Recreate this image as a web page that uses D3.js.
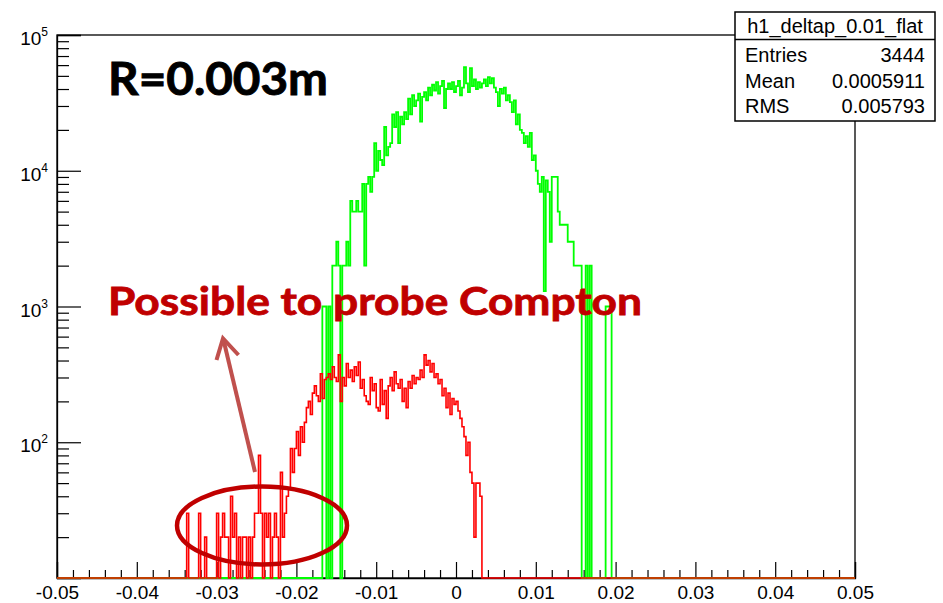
<!DOCTYPE html>
<html>
<head>
<meta charset="utf-8">
<script src="https://cdn.jsdelivr.net/npm/d3@7"></script>
<style>
  body { margin: 0; background: #fff; }
  svg { display: block; }
</style>
</head>
<body>
<div id="chart"></div>
<script>
var binWidth = 0.00025;
var xMin = -0.05, xMax = 0.05;

// green histogram: counts per bin starting at greenStart
var greenStart = -0.01675;
var greenCounts = [1000,1000,0,1000,0,2000,2000,3000,2000,0,
  2000,2000,3000,2000,6000,5000,5000,6000,5000,5000,
  8000,2000,8000,9000,7000,9000,16000,10000,14000,12000,
  11000,21000,13000,15000,16000,26000,21000,27000,16000,25000,
  22000,27000,24000,34000,26000,36000,30000,33000,37000,23000,
  35000,38000,33000,41000,36000,43000,39000,45000,37000,42000,
  46000,29000,40000,44000,40000,45000,38000,42000,46000,36000,
  41000,58000,44000,38000,57000,42000,47000,40000,45000,41000,
  44000,47000,42000,49000,44000,48000,41000,38000,30000,40000,
  37000,41000,33000,36000,32000,27000,33000,22000,26000,20000,
  19000,16000,18000,15000,19000,12000,13000,10000,8000,7000,
  9000,1300,8500,7000,3000,9000,9000,9000,5000,4000,
  4000,4000,4000,3000,3000,3000,2000,2000,2000,2000,
  0,0,2000,0,2000,0,0,0,0,0,
  0,0,1000,1000,1000];

// red histogram
var redStart = -0.03375;
var redCounts = [30,0,0,0,0,0,30,0,0,20,
  0,0,0,0,0,30,0,20,30,20,
  20,0,40,20,30,0,20,0,20,20,
  0,20,0,20,30,30,80,30,0,30,
  20,30,0,20,30,20,0,60,20,30,
  40,45,90,60,90,120,80,130,100,140,
  180,200,160,230,260,220,200,320,210,290,
  300,320,290,360,300,280,440,200,300,260,
  380,300,340,280,360,310,390,250,290,220,
  200,190,300,240,270,180,170,290,190,240,
  150,260,300,240,330,270,250,290,200,250,
  180,280,250,310,270,300,290,340,300,440,
  370,400,330,380,300,320,270,290,220,250,
  180,230,160,210,190,200,170,150,130,110,
  80,100,60,50,20,50,50,40];

var xTickValues = [-0.05,-0.04,-0.03,-0.02,-0.01,0,0.01,0.02,0.03,0.04,0.05];
var yDecades = [10,100,1000,10000,100000];
var yLabelDecades = [100,1000,10000,100000];
var yExponents = [2,3,4,5];

var statsTitle = "h1_deltap_0.01_flat";
var statsNames = ["Entries","Mean","RMS"];
var statsValues = ["3444","0.0005911","0.005793"];

var width = 943, height = 603;
var margin = {top: 35, right: 88, bottom: 25, left: 57};
var plotRight = width - margin.right;   // 855
var plotBottom = height - margin.bottom; // 578

var svg = d3.select("#chart").append("svg")
    .attr("width", width)
    .attr("height", height);

var x = d3.scaleLinear().domain([xMin, xMax]).range([margin.left, plotRight]);
var y = d3.scaleLog().domain([10, 100000]).range([plotBottom, margin.top]);

function yv(v) { return v <= 10 ? y(10) : y(v); }

// expand a short counts array into the full binning
function fullBins(start, counts) {
  var n = Math.round((xMax - xMin) / binWidth);
  var arr = new Array(n).fill(0);
  var off = Math.round((start - xMin) / binWidth);
  counts.forEach(function (c, i) { arr[off + i] = c; });
  var pts = arr.map(function (v, i) { return [xMin + i * binWidth, v]; });
  pts.push([xMax, arr[n - 1]]);
  return pts;
}

var step = d3.line()
    .x(function (d) { return x(d[0]); })
    .y(function (d) { return yv(d[1]); })
    .curve(d3.curveStepAfter);

svg.append("clipPath").attr("id", "plotclip")
  .append("rect")
    .attr("x", margin.left).attr("y", margin.top - 1)
    .attr("width", plotRight - margin.left).attr("height", plotBottom - margin.top + 2);

// frame
svg.append("rect")
    .attr("x", margin.left).attr("y", margin.top)
    .attr("width", plotRight - margin.left).attr("height", plotBottom - margin.top)
    .attr("fill", "none").attr("stroke", "#000").attr("stroke-width", 1.3);

// y axis: major + minor ticks pointing inward
var minorY = [];
yDecades.slice(0, 4).forEach(function (d) {
  for (var m = 2; m <= 9; m++) minorY.push(d * m);
});

var yMinor = d3.axisLeft(y).tickValues(minorY).tickSize(-12).tickFormat("");
svg.append("g").attr("transform", "translate(" + margin.left + ",0)").call(yMinor)
  .call(function (g) {
    g.select(".domain").remove();
    g.selectAll(".tick line").attr("stroke", "#000").attr("stroke-width", 1.2);
  });

var yMajor = d3.axisLeft(y).tickValues(yLabelDecades).tickSize(-24).tickPadding(9);
svg.append("g").attr("transform", "translate(" + margin.left + ",0)").call(yMajor)
  .call(function (g) {
    g.select(".domain").attr("stroke", "#000").attr("stroke-width", 1.3);
    g.selectAll(".tick line").attr("stroke", "#000").attr("stroke-width", 1.2);
    g.selectAll(".tick text").each(function (d, i) {
      var t = d3.select(this).text("")
          .attr("font-family", "'Liberation Sans', Arial, sans-serif")
          .attr("font-size", 19).attr("fill", "#000")
          .attr("dy", "0.5em");
      t.append("tspan").text("10");
      t.append("tspan").text(yExponents[i]).attr("font-size", 12).attr("dy", -9);
    });
  });

// x axis
var minorX = d3.range(-25, 26).map(function (i) { return i * 0.002; })
    .filter(function (v) { return Math.abs(Math.round(v * 100) - v * 100) > 1e-6; });

var xMinorAxis = d3.axisBottom(x).tickValues(minorX).tickSize(-8).tickFormat("");
svg.append("g").attr("transform", "translate(0," + plotBottom + ")").call(xMinorAxis)
  .call(function (g) {
    g.select(".domain").remove();
    g.selectAll(".tick line").attr("stroke", "#000").attr("stroke-width", 1.2);
  });

var xAxis = d3.axisBottom(x).tickValues(xTickValues).tickSize(-16).tickPadding(8)
    .tickFormat(function (d) {
      if (Math.abs(d) < 1e-9) return "0";
      return (d < 0 ? "-" : "") + Math.abs(d).toFixed(2);
    });
svg.append("g").attr("transform", "translate(0," + plotBottom + ")").call(xAxis)
  .call(function (g) {
    g.select(".domain").attr("stroke", "#000").attr("stroke-width", 1.3);
    g.selectAll(".tick line").attr("stroke", "#000").attr("stroke-width", 1.2);
    g.selectAll(".tick text")
      .attr("font-family", "'Liberation Sans', Arial, sans-serif")
      .attr("font-size", 19).attr("fill", "#000");
  });

// histograms
var plot = svg.append("g").attr("clip-path", "url(#plotclip)");
plot.append("path")
    .attr("d", step(fullBins(greenStart, greenCounts)))
    .attr("fill", "none").attr("stroke", "#00ff00").attr("stroke-width", 1.8);
plot.append("path")
    .attr("d", step(fullBins(redStart, redCounts)))
    .attr("fill", "none").attr("stroke", "#ff0000").attr("stroke-width", 1.6);

// stats box
var box = svg.append("g").attr("font-family", "'Liberation Sans', Arial, sans-serif")
    .attr("font-size", 20).attr("fill", "#000");
box.append("rect").attr("x", 735).attr("y", 12).attr("width", 200).attr("height", 109)
    .attr("fill", "#fff").attr("stroke", "#000").attr("stroke-width", 1.5);
box.append("line").attr("x1", 735).attr("x2", 935).attr("y1", 39.5).attr("y2", 39.5)
    .attr("stroke", "#000").attr("stroke-width", 1.5);
box.append("text").attr("x", 835).attr("y", 33).attr("text-anchor", "middle").text(statsTitle);
statsNames.forEach(function (n, i) {
  var by = 62 + i * 25.5;
  box.append("text").attr("x", 745).attr("y", by).text(n);
  box.append("text").attr("x", 925).attr("y", by).attr("text-anchor", "end").text(statsValues[i]);
});

// annotations
svg.append("text").attr("x", 108).attr("y", 95)
    .attr("font-family", "Lato, 'Open Sans', sans-serif").attr("font-weight", 700)
    .attr("font-size", 46).attr("fill", "#000")
    .attr("stroke", "#000").attr("stroke-width", 0.9)
    .attr("textLength", 220).attr("lengthAdjust", "spacingAndGlyphs")
    .text("R=0.003m");

svg.append("text").attr("x", 108).attr("y", 315)
    .attr("font-family", "Lato, 'Open Sans', sans-serif").attr("font-weight", 700)
    .attr("font-size", 39).attr("fill", "#c00000")
    .attr("stroke", "#c00000").attr("stroke-width", 0.8)
    .attr("textLength", 534).attr("lengthAdjust", "spacingAndGlyphs")
    .text("Possible to probe Compton");

svg.append("ellipse").attr("cx", 262).attr("cy", 525.5).attr("rx", 85).attr("ry", 39)
    .attr("fill", "none").attr("stroke", "#c00000").attr("stroke-width", 4.5);

svg.append("line").attr("x1", 255).attr("y1", 472).attr("x2", 224).attr("y2", 342)
    .attr("stroke", "#c0504d").attr("stroke-width", 4);
svg.append("path").attr("d", "M216.5,360L223,338.5L238.5,355")
    .attr("fill", "none").attr("stroke", "#c0504d").attr("stroke-width", 4)
    .attr("stroke-linejoin", "miter");
</script>
</body>
</html>
